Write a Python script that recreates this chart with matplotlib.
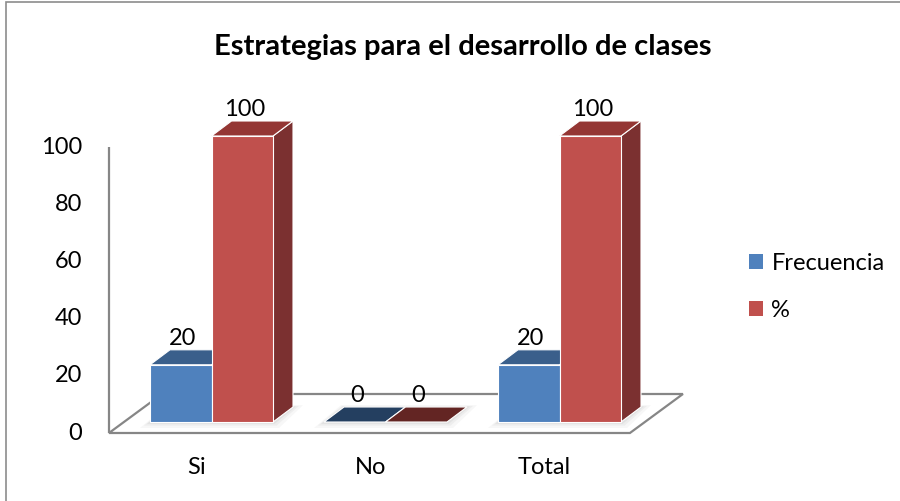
import matplotlib
matplotlib.use("Agg")
import matplotlib.pyplot as plt
from matplotlib.patches import Polygon, Patch, Rectangle

plt.rcParams['font.family'] = ['Lato', 'DejaVu Sans']

# datos
categorias = ["Si", "No", "Total"]
frecuencia = [20, 0, 20]
porcentaje = [100, 0, 100]
series = ["Frecuencia", "%"]
yticks = [0, 20, 40, 60, 80, 100]

# colores estilo Excel 3D
c_front = ['#4F81BD', '#C0504D']
c_top = ['#3A5F8B', '#943634']
c_side = ['#2F4E74', '#7B3030']
c_flat = ['#243F60', '#632523']
gris = '#868686'

# escala en pixeles (figura 900x501)
PXX = 1 / 174.0   # unidades x por pixel
PXY = 1 / 2.86    # unidades de valor por pixel
W = 61.5 * PXX    # ancho de barra
DX, DY = 20 * PXX, 15 * PXY   # profundidad de la barra

fig = plt.figure(figsize=(9, 5.01), dpi=100)
ax = fig.add_axes([0, 0, 1, 1])
ax.set_xlim(-211.5 * PXX, (900 - 211.5) * PXX)
ax.set_ylim((422 - 501) * PXY, 422 * PXY)
ax.axis('off')

# borde del grafico (solo izquierda y arriba visibles)
fig.patches.append(Rectangle((6 / 900, -0.05), 1.0, 1 - 2 / 501 + 0.05,
                             transform=fig.transFigure, fill=False,
                             edgecolor='#8C8C8C', lw=1.2))

# piso
xa, xb = -0.503, 2.491
fdx, fdy = -15 * PXX, -11 * PXY   # plano frontal
bdx, bdy = 38 * PXX, 28 * PXY     # plano trasero
piso = [(xa + fdx, fdy), (xb + fdx, fdy), (xb + bdx, bdy), (xa + bdx, bdy)]
ax.add_patch(Polygon(piso, closed=True, facecolor='white', edgecolor=gris, lw=1.6,
                     joinstyle='miter'))

# eje vertical
ax.plot([xa + fdx, xa + fdx], [fdy, yticks[-1] + fdy], color=gris, lw=1.6,
        solid_capstyle='butt')
for t in yticks:
    ax.annotate(str(t), (xa + fdx, t + fdy), xytext=(-27, 0), textcoords='offset pixels',
                ha='right', va='center', fontsize=17)

# sombras suaves bajo las barras
for i in range(len(categorias)):
    x0 = i - W
    for k, a in zip([10, 6, 3], [0.06, 0.08, 0.10]):
        e = k * PXX
        ey = k * 0.6 * PXY
        sh = [(x0 - e, -ey), (x0 + 2 * W + e * 0.6, -ey),
              (x0 + 2 * W + DX + e, DY + ey * 0.3), (x0 + DX - e * 0.3, DY + ey * 0.3)]
        ax.add_patch(Polygon(sh, closed=True, facecolor='#7F7F7F', edgecolor='none', alpha=a))

# barras 3D
for i in range(len(categorias)):
    for j, vals in enumerate([frecuencia, porcentaje]):
        v = vals[i]
        x0 = i - W + j * W
        if v > 0:
            side = [(x0 + W, 0), (x0 + W + DX, DY), (x0 + W + DX, v + DY), (x0 + W, v)]
            ax.add_patch(Polygon(side, closed=True, facecolor=c_side[j], edgecolor='white', lw=0.8))
        top = [(x0, v), (x0 + W, v), (x0 + W + DX, v + DY), (x0 + DX, v + DY)]
        ax.add_patch(Polygon(top, closed=True, facecolor=c_top[j] if v > 0 else c_flat[j],
                             edgecolor='white', lw=0.8))
        if v > 0:
            ax.bar(x0, v, width=W, align='edge', color=c_front[j], edgecolor='white', lw=0.8)
        ax.annotate(str(v), (x0 + W / 2, v), xytext=(2, 20), textcoords='offset pixels',
                    ha='center', va='baseline', fontsize=17)

# etiquetas de categoria
for i, c in enumerate(categorias):
    ax.annotate(c, (i, 0), xytext=(-15, -45), textcoords='offset pixels',
                ha='center', va='center', fontsize=17)

# titulo
fig.text(463 / 900, 1 - 47 / 501, "Estrategias para el desarrollo de clases",
         ha='center', va='center', fontsize=21, fontweight='bold')

# leyenda
handles = [Patch(facecolor=c_front[j], edgecolor='none', label=series[j]) for j in range(2)]
fig.legend(handles=handles, loc='center left', bbox_to_anchor=(749 / 900, 1 - 287 / 501),
           frameon=False, fontsize=17, borderpad=0, handlelength=0.6, handleheight=0.6,
           handletextpad=0.35, labelspacing=1.1, borderaxespad=0)

fig.savefig("out.png", dpi=100)
